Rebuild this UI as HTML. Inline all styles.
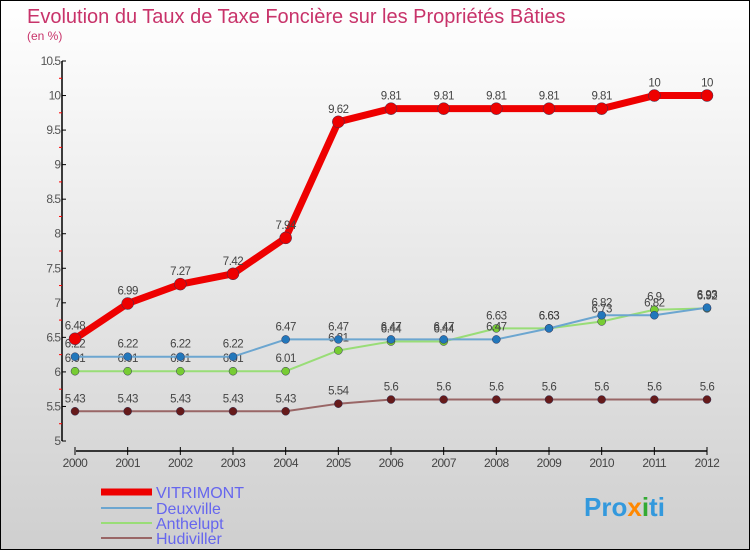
<!DOCTYPE html>
<html><head><meta charset="utf-8"><style>
html,body{margin:0;padding:0}
body{width:750px;height:550px;overflow:hidden;font-family:"Liberation Sans",sans-serif}
#wrap{position:absolute;left:0;top:0;width:748px;height:548px;border:1px solid #000;background:linear-gradient(#ffffff,#cfcfcf)}
</style></head><body>
<div id="wrap">
<svg id="chart" width="748" height="548" xmlns="http://www.w3.org/2000/svg">
<text x="26" y="22" font-size="20" fill="#c8336a">Evolution du Taux de Taxe Foncière sur les Propriétés Bâties</text>
<text x="26" y="39" font-size="12" fill="#c8336a">(en %)</text>
<g id="axes"></g><g id="series"></g>
<g>
<line x1="100" y1="491" x2="151" y2="491" stroke="#ee0000" stroke-width="7"/>
<text x="155" y="497" font-size="16" fill="#6666ee">VITRIMONT</text>
<line x1="100" y1="507" x2="151" y2="507" stroke="#6ca6d0" stroke-width="2"/>
<text x="155" y="513" font-size="16" fill="#6666ee">Deuxville</text>
<line x1="100" y1="522" x2="151" y2="522" stroke="#99dd77" stroke-width="2"/>
<text x="155" y="528" font-size="16" fill="#6666ee">Anthelupt</text>
<line x1="100" y1="537" x2="151" y2="537" stroke="#996666" stroke-width="2"/>
<text x="155" y="543" font-size="16" fill="#6666ee">Hudiviller</text>
</g>
<text x="583" y="515" font-size="26" font-weight="bold" fill="#3399dd">Pro<tspan fill="#ff8800">x</tspan><tspan fill="#33aa33">i</tspan>ti</text>
</svg></div>
<script>
const years=["2000","2001","2002","2003","2004","2005","2006","2007","2008","2009","2010","2011","2012"];
const yTicks=[5,5.5,6,6.5,7,7.5,8,8.5,9,9.5,10,10.5];
const yTickLabels=["5","5.5","6","6.5","7","7.5","8","8.5","9","9.5","10","10.5"];
const vitrimont=[6.48,6.99,7.27,7.42,7.94,9.62,9.81,9.81,9.81,9.81,9.81,10,10];
const deuxville=[6.22,6.22,6.22,6.22,6.47,6.47,6.47,6.47,6.47,6.63,6.82,6.82,6.93];
const anthelupt=[6.01,6.01,6.01,6.01,6.01,6.31,6.44,6.44,6.63,6.63,6.73,6.9,6.92];
const hudiviller=[5.43,5.43,5.43,5.43,5.43,5.54,5.6,5.6,5.6,5.6,5.6,5.6,5.6];
const NS="http://www.w3.org/2000/svg";
const xS=i=>74+i*(706-74)/(years.length-1);
const yS=v=>440-(v-5)*(380/5.5);
function mk(tag,attrs,parent){const e=document.createElementNS(NS,tag);for(const k in attrs)e.setAttribute(k,attrs[k]);parent.appendChild(e);return e;}
const axes=document.getElementById('axes'),ser=document.getElementById('series');
let a=mk('line',{x1:61,y1:60,x2:61,y2:440,stroke:'#000','stroke-width':1.5},axes);


yTicks.forEach((t,i)=>{
  mk('line',{x1:61,y1:yS(t),x2:65,y2:yS(t),stroke:'#000'},axes);
  if(i<yTicks.length-1)mk('line',{x1:58,y1:yS(t+0.25),x2:61,y2:yS(t+0.25),stroke:'#ff0000'},axes);
  const tx=mk('text',{x:59,y:yS(t)+4,'font-size':12,fill:'#555','text-anchor':'end','letter-spacing':'-1'},axes);
  tx.textContent=yTickLabels[i];
  
  
});
let b=mk('line',{x1:75,y1:450,x2:706,y2:450,stroke:'#000','stroke-width':1.5},axes);


years.forEach((y,i)=>{
  mk('line',{x1:xS(i),y1:446,x2:xS(i),y2:454,stroke:'#000'},axes);
  const tx=mk('text',{x:xS(i),y:466,'font-size':12,fill:'#444','text-anchor':'middle','letter-spacing':'-0.5'},axes);
  tx.textContent=y;
  
  
});
function draw(vals,name,color,width,r,dot){
  const g=mk('g',{},ser);
  
  
  const pl=mk('polyline',{points:vals.map((v,i)=>xS(i)+','+yS(v)).join(' '),fill:'none',stroke:color,'stroke-width':width,'stroke-linejoin':'round'},g);
  
  
  vals.forEach((v,i)=>{
    const c=mk('circle',{cx:xS(i),cy:yS(v),r:r,fill:dot,stroke:'#335',"stroke-width":0.5},g);
    
    
    const t=mk('text',{x:xS(i),y:yS(v)-9,'font-size':11.5,fill:'#444','text-anchor':'middle','letter-spacing':'-0.5'},g);
    t.textContent=String(v);
    
    
  });
}
draw(hudiviller,'hudiviller','#996666',2,4,'#661a1a');
draw(anthelupt,'anthelupt','#99dd77',2,4,'#77cc33');
draw(deuxville,'deuxville','#6ca6d0',2,4,'#2277bb');
draw(vitrimont,'vitrimont','#ee0000',7,6,'#ee0000');
</script>
</body></html>
